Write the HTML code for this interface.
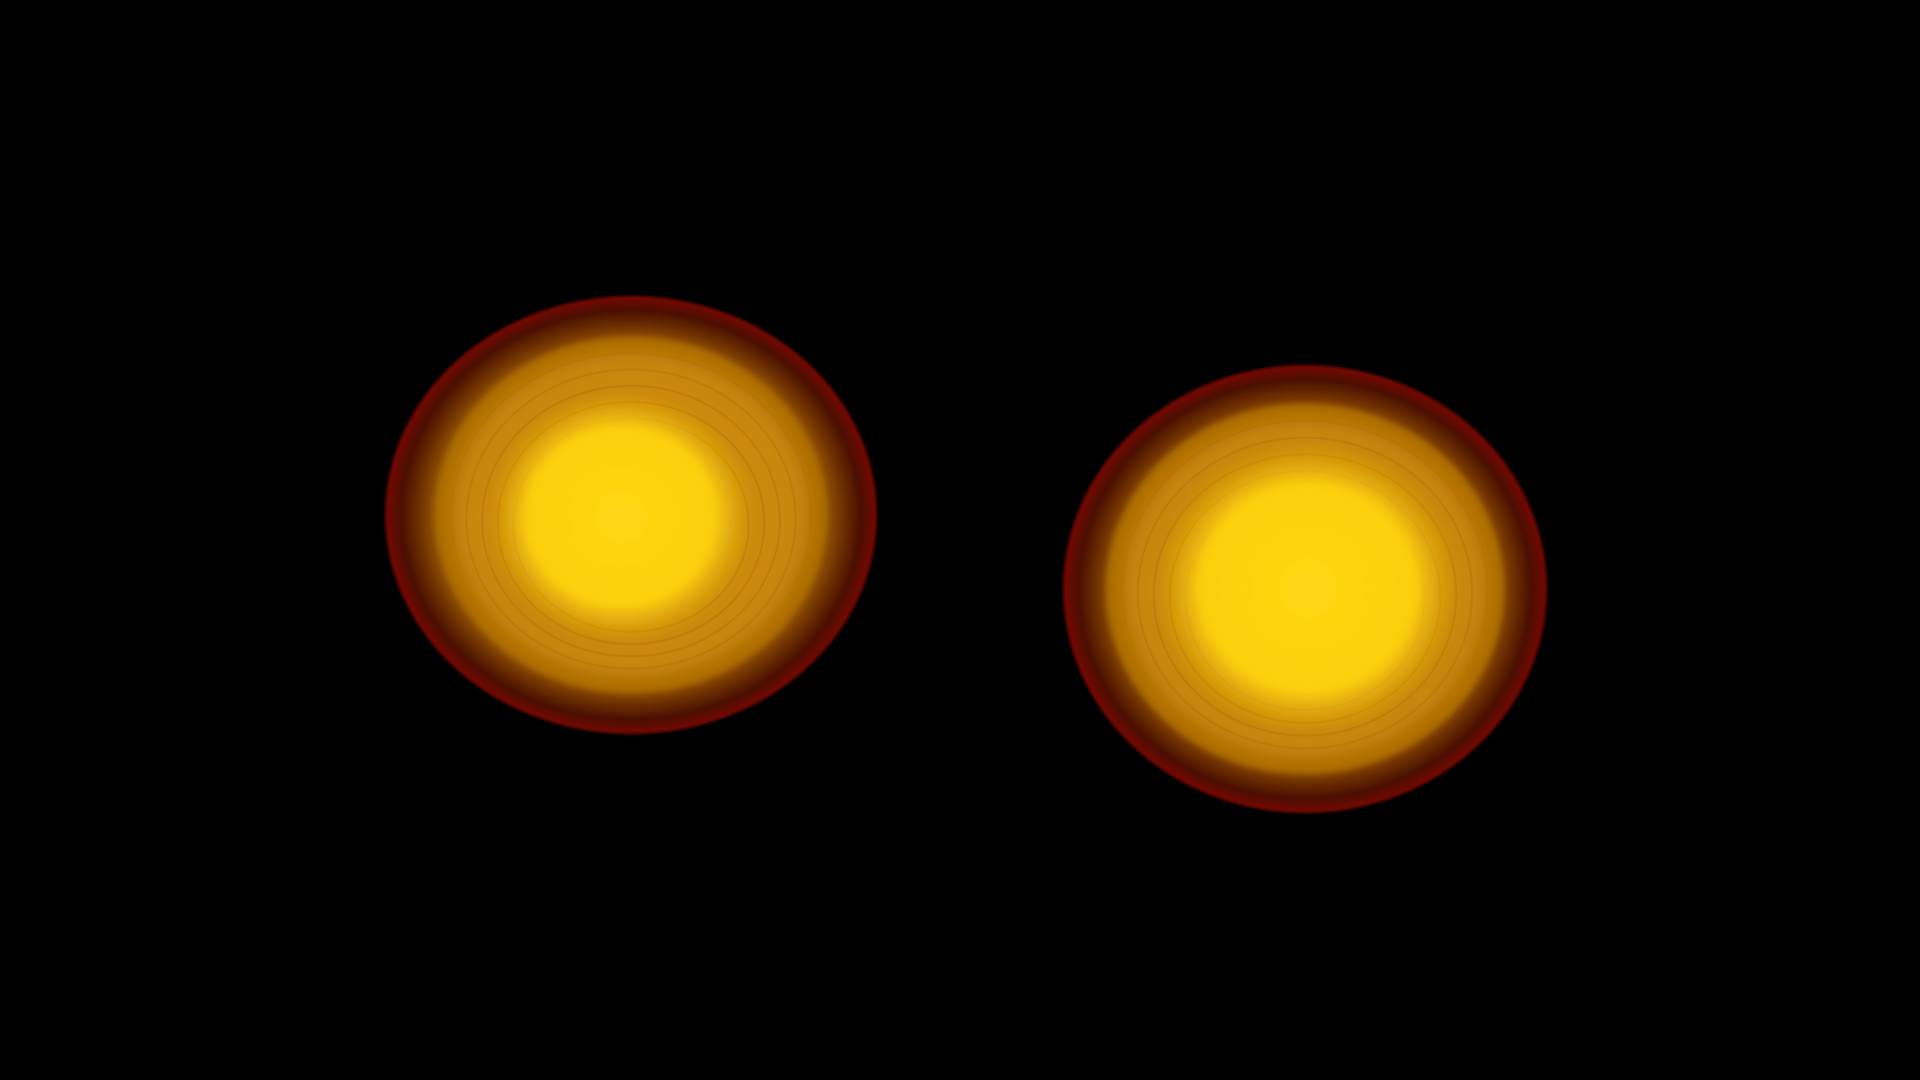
<!DOCTYPE html>
<html><head><meta charset="utf-8"><style>
html,body{margin:0;padding:0;background:#000;width:1920px;height:1080px;overflow:hidden}
svg{display:block}
</style></head><body>
<svg width="1920" height="1080" viewBox="0 0 1920 1080">
<defs>
<radialGradient id="gOuter" cx="0.5" cy="0.5" r="0.5">
<stop offset="0.78" stop-color="#9a5a05"/>
<stop offset="0.86" stop-color="#6e3000"/>
<stop offset="0.93" stop-color="#4a0f00"/>
<stop offset="0.985" stop-color="#700800"/>
<stop offset="1" stop-color="#2a0000"/>
</radialGradient>
<radialGradient id="gMid" cx="0.5" cy="0.5" r="0.5">
<stop offset="0" stop-color="#d99a10"/>
<stop offset="0.85" stop-color="#c88508"/>
<stop offset="1" stop-color="#a86804"/>
</radialGradient>
<radialGradient id="gCore" cx="0.5" cy="0.5" r="0.5">
<stop offset="0" stop-color="#ffd812"/>
<stop offset="0.7" stop-color="#fbcf10"/>
<stop offset="1" stop-color="#e0a80c" stop-opacity="0"/>
</radialGradient>
<filter id="blur"><feGaussianBlur stdDeviation="3"/></filter>
</defs>
<g id="blobs"></g>
</svg>
<script>
const names=['left-blob','right-blob'];
const centers=[[631,515],[1305,589]];
const outerR=[[247,220],[243,225]];
const midR=[[196,178],[199,185]];
const coreR=[[116,110],[133,128]];
const coreC=[[621,517],[1308,588]];
const NS='http://www.w3.org/2000/svg';
const g=document.getElementById('blobs');
function ell(p,cx,cy,rx,ry,fill,name,extra){
  const e=document.createElementNS(NS,'ellipse');
  e.setAttribute('cx',cx);e.setAttribute('cy',cy);e.setAttribute('rx',rx);e.setAttribute('ry',ry);
  e.setAttribute('fill',fill);
  if(extra)for(const k in extra)e.setAttribute(k,extra[k]);
  
  
  p.appendChild(e);return e;
}
names.forEach((n,i)=>{
  const grp=document.createElementNS(NS,'g');
  
  
  g.appendChild(grp);
  const [cx,cy]=centers[i];
  ell(grp,cx,cy,outerR[i][0],outerR[i][1],'url(#gOuter)',n+'-outer-shell');
  ell(grp,cx,cy,midR[i][0],midR[i][1],'url(#gMid)',n+'-orange-layer',{filter:'url(#blur)'});
  for(let k=1;k<=5;k++){
    const f=1-k*0.08;
    ell(grp,cx,cy+k*2,midR[i][0]*f,midR[i][1]*f,'none',n+'-ring',{stroke:'#b8700a','stroke-width':2,'stroke-opacity':0.5});
  }
  ell(grp,coreC[i][0],coreC[i][1],coreR[i][0]*1.15,coreR[i][1]*1.15,'url(#gCore)',n+'-yellow-core',{filter:'url(#blur)'});
});
</script>
</body></html>
